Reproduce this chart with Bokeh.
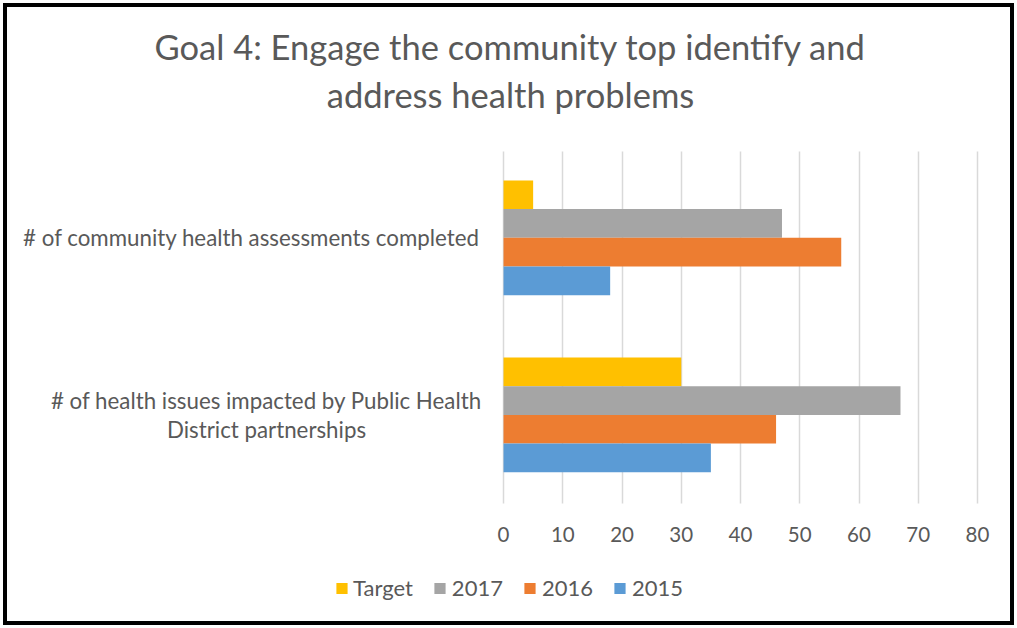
from bokeh.plotting import figure
from bokeh.models import (Range1d, FixedTicker, Label, Legend, LegendItem, ColumnDataSource)
from bokeh.transform import dodge
from bokeh.embed import file_html
from bokeh.resources import INLINE

# ---- data ----
categories = [
    "# of community health assessments completed",
    "# of health issues impacted by Public Health\nDistrict partnerships",
]
series_names = ["Target", "2017", "2016", "2015"]
target = [5, 30]
y2017 = [47, 67]
y2016 = [57, 46]
y2015 = [18, 35]
x_ticks = [0, 10, 20, 30, 40, 50, 60, 70, 80]
title_text = "Goal 4: Engage the community top identify and\naddress health problems"

colors = ["#FFC000", "#A5A5A5", "#ED7D31", "#5B9BD5"]
FONT = "Lato"
TXT = "#595959"

n = len(categories)
pos = [n - 1 - i for i in range(n)]
src = ColumnDataSource(dict(pos=pos, Target=target, y2017=y2017, y2016=y2016, y2015=y2015))

FW, FH = 1017, 628
# the frame spans the full canvas; value 0 lands at x=503px, 80 at 977px
p = figure(frame_width=FW, frame_height=FH, output_backend="svg", toolbar_location=None,
           x_range=Range1d(-84.9, 86.75), y_range=Range1d(-1.206, 2.34),
           min_border_left=0, min_border_right=0, min_border_top=0, min_border_bottom=0)
p.styles = {"box-shadow": "inset 0 0 0 3px white, inset 0 0 0 7px black"}
p.outline_line_color = None
p.background_fill_color = None
p.border_fill_color = None

bh = 0.162
offsets = [1.5 * bh, 0.5 * bh, -0.5 * bh, -1.5 * bh]
fields = ["Target", "y2017", "y2016", "y2015"]
renderers = []
for f, off, c in zip(fields, offsets, colors):
    r = p.hbar(y=dodge("pos", off, range=p.y_range), right=f, left=0, height=bh,
               source=src, fill_color=c, line_color=None)
    renderers.append(r)

p.xaxis.fixed_location = -0.5
p.xaxis.ticker = FixedTicker(ticks=x_ticks)
p.xaxis.axis_line_color = None
p.xaxis.major_tick_line_color = None
p.xaxis.minor_tick_line_color = None
p.xaxis.major_label_text_font = FONT
p.xaxis.major_label_text_font_size = "20.5px"
p.xaxis.major_label_text_color = TXT
p.xaxis.major_label_standoff = 18
p.yaxis.visible = False

p.xgrid.ticker = FixedTicker(ticks=x_ticks)
p.xgrid.grid_line_color = "#D9D9D9"
p.xgrid.grid_line_width = 1.5
p.xgrid.cross_bounds = (-0.5, 1.49)
p.ygrid.grid_line_color = None

label_cx = [251, 266]
for i, cat in enumerate(categories):
    p.add_layout(Label(x=label_cx[i], y=pos[i], x_units="screen", y_units="data",
                       text=cat, text_align="center", text_baseline="middle",
                       text_font=FONT, text_font_size="22.3px", text_color=TXT,
                       text_line_height=1.08))

p.add_layout(Label(x=510, y=FH - 25, x_units="screen", y_units="screen",
                   text=title_text, text_align="center", text_baseline="top",
                   text_font=FONT, text_font_size="34.5px", text_color=TXT,
                   text_line_height=1.18))

legend = Legend(items=[LegendItem(label=nm, renderers=[r]) for nm, r in zip(series_names, renderers)],
                orientation="horizontal", location="bottom_center",
                background_fill_alpha=0, border_line_color=None,
                label_text_font=FONT, label_text_font_size="22px", label_text_color=TXT,
                glyph_width=14, glyph_height=14, label_standoff=5, spacing=20,
                padding=0, margin=27)
p.add_layout(legend, "center")

open("out.html", "w").write(file_html(p, INLINE))
